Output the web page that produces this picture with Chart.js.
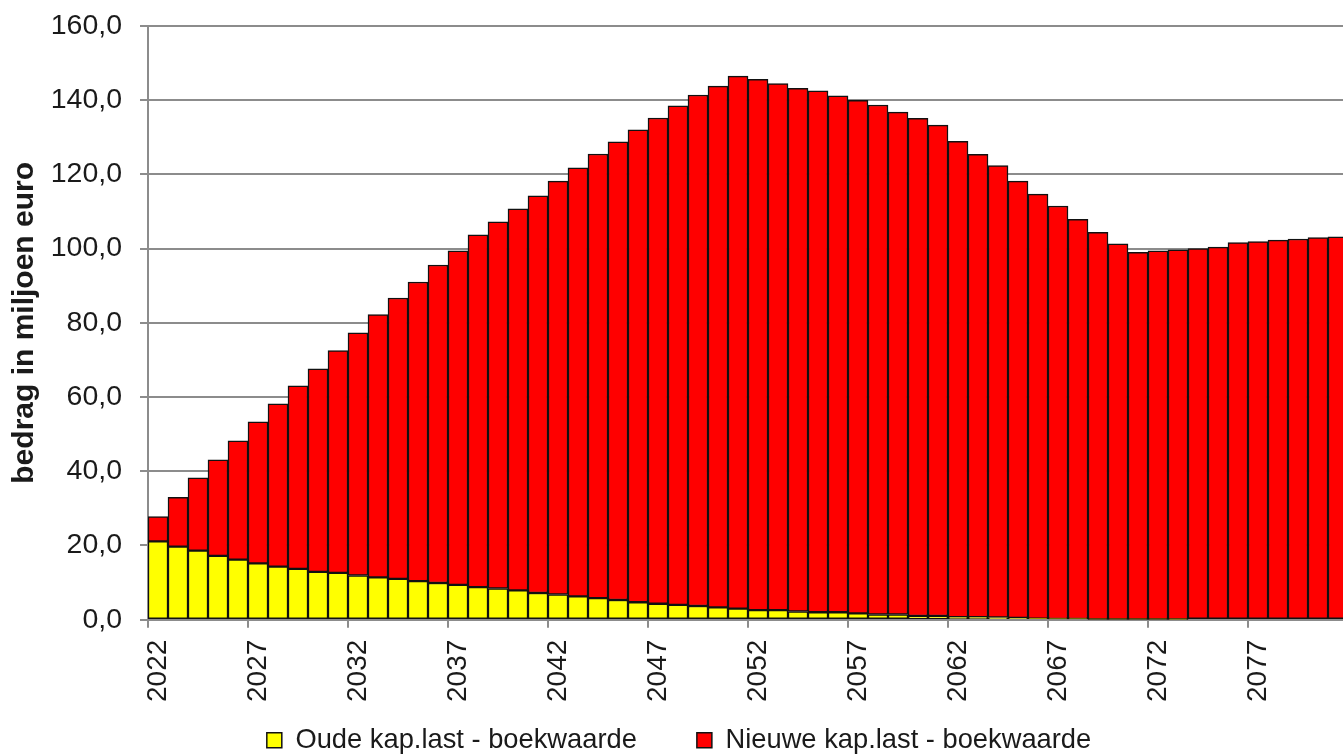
<!DOCTYPE html>
<html>
<head>
<meta charset="utf-8">
<script src="https://cdn.jsdelivr.net/npm/chart.js@4/dist/chart.umd.min.js"></script>
<style>
  html, body { margin: 0; padding: 0; overflow: hidden; background: #fff; }
</style>
</head>
<body>
<canvas id="chart" width="1368" height="764"></canvas>
<script>
var years = ["2022","2023","2024","2025","2026","2027","2028","2029","2030","2031",
  "2032","2033","2034","2035","2036","2037","2038","2039","2040","2041",
  "2042","2043","2044","2045","2046","2047","2048","2049","2050","2051",
  "2052","2053","2054","2055","2056","2057","2058","2059","2060","2061",
  "2062","2063","2064","2065","2066","2067","2068","2069","2070","2071",
  "2072","2073","2074","2075","2076","2077","2078","2079","2080","2081"];

var oude = [21.1, 19.7, 18.6, 17.2, 16.2, 15.2, 14.3, 13.7, 12.9, 12.6,
  11.9, 11.4, 11.0, 10.4, 9.9, 9.4, 8.8, 8.4, 7.9, 7.2,
  6.8, 6.3, 5.8, 5.3, 4.7, 4.3, 4.0, 3.7, 3.3, 3.0,
  2.6, 2.6, 2.2, 2.0, 2.0, 1.7, 1.4, 1.4, 1.0, 1.0,
  0.7, 0.7, 0.6, 0.5, 0.3, 0.2, 0.2, 0.1, 0.1, 0.1,
  0.1, 0.05, 0, 0, 0, 0, 0, 0, 0, 0];

var nieuwe = [6.7, 13.3, 19.6, 25.9, 32.0, 38.1, 43.9, 49.3, 54.7, 59.9,
  65.4, 70.8, 75.7, 80.6, 85.7, 90.0, 94.9, 98.8, 102.8, 107.0,
  111.4, 115.5, 119.7, 123.5, 127.3, 130.9, 134.5, 137.7, 140.5, 143.5,
  143.0, 141.9, 141.0, 140.5, 139.2, 138.3, 137.3, 135.4, 134.1, 132.3,
  128.2, 124.7, 121.8, 117.7, 114.4, 111.3, 107.7, 104.3, 101.2, 98.9,
  99.3, 99.65, 100.0, 100.4, 101.6, 101.9, 102.3, 102.6, 103.0, 103.2];

var yTicks = [0, 20, 40, 60, 80, 100, 120, 140, 160];

var font = "'Liberation Sans', Arial, sans-serif";
var gridGray = "#8c8c8c";
var textColor = "#1a1a1a";

window.chart = new Chart(document.getElementById("chart").getContext("2d"), {
  type: "bar",
  data: {
    labels: years,
    datasets: [
      {
        label: "Oude kap.last - boekwaarde",
        data: oude,
        backgroundColor: "#ffff00",
        borderColor: "#111",
        borderWidth: 1.5,
        borderSkipped: false,
        categoryPercentage: 1,
        barPercentage: 1
      },
      {
        label: "Nieuwe kap.last - boekwaarde",
        data: nieuwe,
        backgroundColor: "#ff0000",
        borderColor: "#111",
        borderWidth: 1.5,
        borderSkipped: false,
        categoryPercentage: 1,
        barPercentage: 1
      }
    ]
  },
  options: {
    responsive: false,
    animation: false,
    devicePixelRatio: 1,
    layout: { padding: { top: 26, right: 20, left: 10, bottom: 0 } },
    plugins: {
      tooltip: { enabled: false },
      legend: {
        position: "bottom",
        labels: {
          boxWidth: 15,
          boxHeight: 15,
          padding: 60,
          color: textColor,
          font: { family: font, size: 27.3 }
        }
      }
    },
    scales: {
      x: {
        stacked: true,
        border: { color: gridGray, width: 2 },
        grid: {
          offset: true,
          drawOnChartArea: false,
          tickLength: 8,
          lineWidth: 2,
          color: function(ctx) { return ctx.index % 5 === 0 ? gridGray : "rgba(0,0,0,0)"; }
        },
        ticks: {
          autoSkip: false,
          maxRotation: 90,
          minRotation: 90,
          padding: 12,
          color: textColor,
          font: { family: font, size: 28 },
          callback: function(value, index) { return index % 5 === 0 ? years[index] : ""; }
        },
        afterFit: function(scale) {
          // legend sits under the rotated labels, so keep the axis box short
          scale.height = 47;
          scale.paddingRight = 0;
          scale._computeLabelArea = function() { return null; };
        }
      },
      y: {
        stacked: true,
        min: 0,
        max: 160,
        border: { color: gridGray, width: 2 },
        grid: { color: gridGray, lineWidth: 2, tickLength: 8 },
        afterBuildTicks: function(scale) {
          scale.ticks = yTicks.map(function(v) { return { value: v }; });
        },
        ticks: {
          padding: 18,
          color: textColor,
          font: { family: font, size: 28.5 },
          callback: function(value) { return value.toFixed(1).replace(".", ","); }
        },
        title: {
          display: true,
          text: "bedrag in miljoen euro",
          color: textColor,
          padding: { top: -3, bottom: 0 },
          font: { family: font, size: 30, weight: "bold" }
        },
        afterFit: function(scale) {
          scale.width = 138;
          scale.paddingTop = 0;
          scale.paddingBottom = 0;
        }
      }
    }
  }
});
</script>
</body>
</html>
